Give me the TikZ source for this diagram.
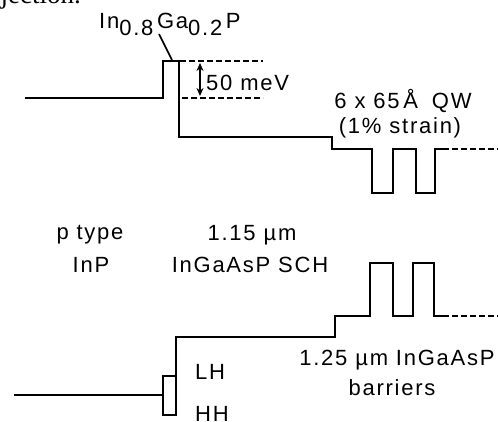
\documentclass[tikz,border=0pt]{standalone}
\usepackage{fontspec}
\setmainfont{Liberation Sans}[LetterSpace=8]
\newfontfamily\pageserif{Liberation Serif}
\usetikzlibrary{arrows.meta}
\begin{document}
\begin{tikzpicture}[x=1pt,y=-1pt,
  band/.style={line width=2.6pt, line join=miter},
  vband/.style={line width=2.3pt, line join=miter},
  dashband/.style={line width=2pt, dash pattern=on 6pt off 3pt},
  lbl/.style={font=\fontsize{22}{26}\selectfont, inner sep=0pt, align=center}]
\useasboundingbox (0,0) rectangle (498,421);

% cut-off text of the page above
\node[anchor=base east, inner sep=0pt, font=\pageserif\fontsize{27}{29}\selectfont] (pagetext) at (81,3) {injection.};

% conduction band
\draw[band] (25,98) -- (163,98) -- (163,61) -- (179,61) -- (179,137) -- (332,137) -- (332,149)
  -- (372,149) -- (372,193) -- (393,193) -- (393,149) -- (416,149) -- (416,193) -- (435,193)
  -- (435,149) -- (443,149);
\coordinate (cbend) at (443,149);
\coordinate (cbedge) at (498,149);
\draw[dashband] (cbend) -- (cbedge);
\coordinate (dtopa) at (180,61);
\coordinate (dtopb) at (263,61);
\coordinate (dbota) at (182,98);
\coordinate (dbotb) at (263,98);
\draw[dashband] (dtopa) -- (dtopb);
\draw[dashband] (dbota) -- (dbotb);
\coordinate (arrtop) at (200,63);
\coordinate (arrbot) at (200,96);
\draw[line width=1.5pt, {Stealth[length=8pt,width=7pt]}-{Stealth[length=8pt,width=7pt]}] (arrtop) -- (arrbot);

% labels top
\node[lbl, anchor=base west] (ingap) at (99,28) {In\raisebox{-7pt}{0.8}\,Ga\raisebox{-7pt}{0.2}\,P};
\coordinate (barriertop) at (172,60);
\coordinate (leadstart) at (159,34);
\draw[line width=1.6pt] (leadstart) -- (barriertop);
\node[lbl, anchor=west] (mev) at (206,83) {50 meV};
\node[lbl] (qw) at (403,101) {6 x 65\,Å\; QW};
\node[lbl] (strain) at (400,128) {(1\% strain)};

% middle labels
\node[lbl] (ptype) at (90,235) {p type};
\node[lbl] (inp) at (91,265) {InP};
\node[lbl] (sch1) at (252,235) {1.15 µm};
\node[lbl] (sch2) at (250,265) {InGaAsP SCH};

% valence band
\draw[vband] (14,395) -- (163,395);
\draw[band] (163,376) rectangle (176,415);
\draw[band] (176,376) -- (176,337) -- (335,337) -- (335,316) -- (370,316) -- (370,263) -- (393,263)
  -- (393,316) -- (413,316) -- (413,263) -- (434,263) -- (434,316) -- (443,316);
\coordinate (vbend) at (443,316);
\coordinate (vbedge) at (498,316);
\draw[dashband] (vbend) -- (vbedge);

% bottom labels
\node[lbl, anchor=west] (lh) at (195,372) {LH};
\node[lbl, anchor=west] (hh) at (195,414) {HH};
\node[lbl] (bar1) at (397,360) {1.25 µm InGaAsP};
\node[lbl] (bar2) at (392,388) {barriers};
\end{tikzpicture}
\end{document}
